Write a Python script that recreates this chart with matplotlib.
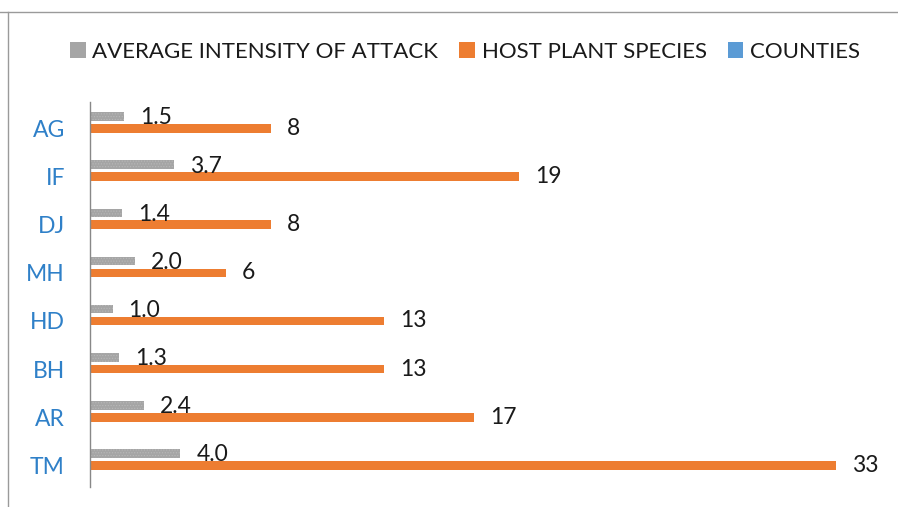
import numpy as np
import matplotlib.pyplot as plt
from matplotlib.lines import Line2D
from matplotlib.patches import Patch

plt.rcParams['font.family'] = ['Lato', 'DejaVu Sans']
plt.rcParams['hatch.linewidth'] = 0.5

# -------------------------
# Data
# -------------------------
categories = ["AG", "IF", "DJ", "MH", "HD", "BH", "AR", "TM"]
avg_intensity = [1.5, 3.7, 1.4, 2.0, 1.0, 1.3, 2.4, 4.0]
host_species = [8, 19, 8, 6, 13, 13, 17, 33]
counties = [0, 0, 0, 0, 0, 0, 0, 0]

GRAY = "#A5A5A5"
ORANGE = "#ED7D31"
BLUE = "#5B9BD5"
LABEL_BLUE = "#2F80C8"
TEXT = "#1A1A1A"

W, H = 898, 507
fig = plt.figure(figsize=(W / 100, H / 100), dpi=100)

# axes in pixel terms: spine at x=90, y from 102 to 487
px_per_unit = 22.6
xmax = 35
ax = fig.add_axes([90 / W, (H - 487) / H, xmax * px_per_unit / W, 385 / H])

y = np.arange(len(categories))
bar_h = 0.18

ax.barh(y - 0.197, avg_intensity, height=bar_h, color=GRAY,
        edgecolor="#B8B8B8", linewidth=0, hatch="......")
host_bars = ax.barh(y + 0.05, host_species, height=bar_h, color=ORANGE)

for yi, v in zip(y, avg_intensity):
    ax.annotate(f"{v:.1f}", xy=(v, yi - 0.197), xytext=(11.5, -1),
                textcoords="offset points", va="center", ha="left",
                fontsize=16.5, color=TEXT)
ax.bar_label(host_bars, labels=[str(v) for v in host_species], padding=11.5,
             fontsize=16.5, color=TEXT)

ax.set_xlim(0, xmax)
ax.set_ylim(len(categories) - 0.5, -0.5)
ax.set_yticks(y + 0.05)
ax.set_yticklabels(categories, fontsize=16.5, color=LABEL_BLUE)
ax.tick_params(axis="y", length=0, pad=18)
ax.set_xticks([])
for side in ["top", "right", "bottom"]:
    ax.spines[side].set_visible(False)
ax.spines["left"].set_color("#888888")
ax.spines["left"].set_linewidth(1.0)

handles = [
    Patch(facecolor=GRAY, edgecolor="none"),
    Patch(facecolor=ORANGE, edgecolor="none"),
    Patch(facecolor=BLUE, edgecolor="none"),
]
labels = ["AVERAGE INTENSITY OF ATTACK", "HOST PLANT SPECIES", "COUNTIES"]
fig.legend(handles, labels, loc="center", bbox_to_anchor=(465 / W, 1 - 52 / H),
           ncol=3, frameon=False, fontsize=16, handlelength=0.7,
           handleheight=0.7, handletextpad=0.3, columnspacing=0.95,
           labelcolor=TEXT)

# partial frame of the chart area
fig.add_artist(Line2D([0, 1], [1 - 12 / H, 1 - 12 / H], color="#9A9A9A", lw=1.0))
fig.add_artist(Line2D([8 / W, 8 / W], [0, 1 - 12 / H], color="#9A9A9A", lw=1.0))

fig.savefig("out.png", dpi=100)
